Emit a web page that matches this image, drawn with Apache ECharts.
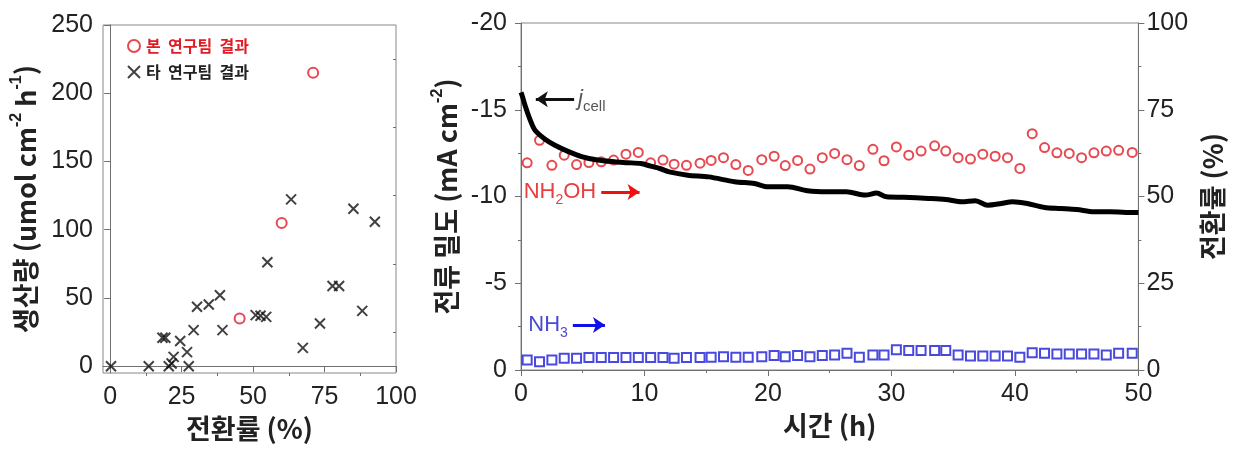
<!DOCTYPE html>
<html><head><meta charset="utf-8">
<script src="https://cdn.jsdelivr.net/npm/echarts@6/dist/echarts.min.js"></script>
<style>html,body{margin:0;padding:0;background:#fff}#c{width:1234px;height:454px}</style>
</head><body><div id="c"></div>
<script>
// ---- Left panel data ----
const ourConv = [71, 60, 45.3];
const ourRate = [215, 105, 35];
const otherConv = [0.3, 13.5, 18.3, 19.3, 20.5, 21.5, 22.2, 24.5, 26.9, 27.5, 29.2, 30.4, 34.5, 38.4, 39.3, 50.9, 52.6, 54.6, 55, 63.3, 67.4, 73.4, 77.8, 80.1, 85.1, 88.2, 92.6];
const otherRate = [0, 0, 20.8, 20.8, 0, 2, 6.8, 18.5, 10.3, 0, 26.4, 43.5, 45.2, 52, 26.4, 37.4, 37, 36.1, 76.2, 122.2, 13.4, 31.3, 58.7, 58.7, 115.3, 40.5, 105.8];
const xTicksLeft = [0, 25, 50, 75, 100];
const xMinorLeft = [12.5, 37.5, 62.5, 87.5];
const yTicksLeft = [0, 50, 100, 150, 200, 250];
const yMinorLeft = [25, 75, 125, 175, 225];

// ---- Right panel data ----
const sampleTime = [0.5,1.5,2.5,3.5,4.5,5.5,6.5,7.5,8.5,9.5,10.5,11.5,12.4,13.4,14.5,15.4,16.4,17.4,18.4,19.5,20.5,21.4,22.4,23.4,24.4,25.4,26.4,27.4,28.5,29.4,30.4,31.4,32.4,33.5,34.4,35.4,36.4,37.4,38.4,39.4,40.4,41.4,42.4,43.4,44.4,45.4,46.4,47.4,48.4,49.5];
const nh2ohFE = [59.7,66.2,59.0,61.9,59.2,59.8,60.0,60.5,62.2,62.7,59.7,60.5,59.3,59.0,59.6,60.4,61.2,59.2,57.5,60.6,61.6,58.9,60.4,57.9,61.2,62.4,60.6,58.9,63.6,60.3,64.3,61.9,63.1,64.6,63.1,61.2,60.8,62.2,61.6,61.2,58.1,68.1,64.1,62.6,62.4,61.2,62.6,63.1,63.3,62.7];
const nh3FE = [2.9,2.4,2.9,3.4,3.4,3.6,3.6,3.6,3.6,3.6,3.6,3.6,3.4,3.6,3.6,3.7,3.8,3.7,3.7,3.8,4.2,3.8,4.2,3.8,4.2,4.3,4.8,3.7,4.3,4.3,5.8,5.6,5.6,5.6,5.6,4.3,4.0,4.0,4.0,4.0,3.7,5.0,4.8,4.6,4.6,4.6,4.6,4.3,4.8,4.8];
const jTime = [0.0,0.1,0.35,0.75,1.15,1.95,2.75,3.8,4.9,6.2,7.55,8.6,9.7,10.5,11.3,12.0,13.5,15.2,17.3,18.9,20.0,21.6,23.2,24.8,26.35,27.9,28.8,29.6,31.0,33.0,34.4,35.7,36.8,37.8,38.9,39.8,41.0,42.4,43.7,45.0,46.4,47.7,49.0,50.0];
const jCell = [-16.0,-15.8,-15.2,-14.4,-13.8,-13.3,-12.95,-12.6,-12.3,-12.1,-12.0,-11.95,-11.9,-11.75,-11.6,-11.42,-11.23,-11.13,-10.85,-10.75,-10.56,-10.56,-10.33,-10.27,-10.27,-10.08,-10.2,-9.98,-9.95,-9.89,-9.83,-9.7,-9.76,-9.5,-9.6,-9.7,-9.6,-9.37,-9.31,-9.25,-9.12,-9.12,-9.08,-9.08];

const zip = (a, b) => a.map((v, i) => [v, b[i]]);
const FONT = "'Liberation Sans', Arial, 'Noto Sans CJK KR', sans-serif";
const KFONT = "'Noto Sans CJK KR', 'Liberation Sans', sans-serif";
const AX = '#707070';
const RED = '#e01b24';
const BLUE = '#1c1cd6';
const crossPath = 'path://M0,0L10,10M10,0L0,10';

// left-panel plot box (px) used to place the minor-tick overlay axes on the same edge
const L_LEFT = 103, L_RIGHT = 838, L_TOP = 25, L_BOTTOM = 81;
const L_W = 1234 - L_LEFT - L_RIGHT, L_H = 454 - L_TOP - L_BOTTOM;

const axisBase = {
  axisLine: { show: true, lineStyle: { color: AX, width: 1 } },
  splitLine: { show: false },
  axisLabel: { fontSize: 25, color: '#222', fontFamily: FONT },
};
const nameStyle = { fontSize: 27, fontWeight: 'bold', color: '#222', fontFamily: KFONT,
  rich: { sup: { fontSize: 16, fontWeight: 'bold', verticalAlign: 'top', lineHeight: 34, fontFamily: FONT } } };

const chart = echarts.init(document.getElementById('c'), null, { renderer: 'canvas' });
chart.setOption({
  animation: false,
  backgroundColor: '#fff',
  grid: [
    { left: L_LEFT, right: L_RIGHT, top: L_TOP, bottom: L_BOTTOM, show: true, borderColor: '#888', borderWidth: 1, containLabel: false },
    { left: 521, right: 89, top: 23, bottom: 84, show: true, borderColor: '#888', borderWidth: 1, containLabel: false }
  ],
  legend: {
    orient: 'vertical', left: 122, top: 33, itemWidth: 14, itemHeight: 12, itemGap: 10,
    textStyle: { fontSize: 16, fontWeight: 'bold', fontFamily: KFONT },
    data: [
      { name: '본  연구팀  결과', textStyle: { color: RED } },
      { name: '타  연구팀  결과', textStyle: { color: '#222' } }
    ]
  },
  xAxis: [
    Object.assign({}, axisBase, {
      gridIndex: 0, type: 'value', min: -2.5, max: 100, position: 'bottom',
      axisTick: { show: true, length: 6, customValues: xTicksLeft, lineStyle: { color: AX } },
      axisLabel: Object.assign({}, axisBase.axisLabel, { customValues: xTicksLeft, margin: 12 }),
      name: '전환률 (%)', nameLocation: 'middle', nameGap: 40, nameTextStyle: nameStyle
    }),
    { gridIndex: 0, type: 'value', min: -2.5, max: 100, position: 'top', offset: -L_H,
      axisLine: { show: true, lineStyle: { color: 'rgba(0,0,0,0)' } }, splitLine: { show: false }, axisLabel: { show: false },
      axisTick: { show: true, inside: true, length: 3, customValues: xMinorLeft, lineStyle: { color: AX } } },
    Object.assign({}, axisBase, {
      gridIndex: 1, type: 'value', min: 0, max: 50, interval: 10,
      axisTick: { show: true, length: 6, lineStyle: { color: AX } },
      minorTick: { show: true, splitNumber: 2, length: 3, lineStyle: { color: AX } },
      axisLabel: Object.assign({}, axisBase.axisLabel, { margin: 12 }),
      name: '시간 (h)', nameLocation: 'middle', nameGap: 40, nameTextStyle: nameStyle
    })
  ],
  yAxis: [
    Object.assign({}, axisBase, {
      gridIndex: 0, type: 'value', min: -5, max: 250, position: 'left',
      axisTick: { show: true, length: 6, customValues: yTicksLeft, lineStyle: { color: AX } },
      axisLabel: Object.assign({}, axisBase.axisLabel, { customValues: yTicksLeft, margin: 10 }),
      name: '생산량 (umol cm{sup|-2} h{sup|-1})', nameLocation: 'middle', nameGap: 60, nameRotate: 90,
      nameTextStyle: nameStyle
    }),
    { gridIndex: 0, type: 'value', min: -5, max: 250, position: 'right', offset: -L_W,
      axisLine: { show: true, lineStyle: { color: 'rgba(0,0,0,0)' } }, splitLine: { show: false }, axisLabel: { show: false },
      axisTick: { show: true, inside: true, length: 3, customValues: yMinorLeft, lineStyle: { color: AX } } },
    Object.assign({}, axisBase, {
      gridIndex: 1, type: 'value', min: -20, max: 0, interval: 5, inverse: true, position: 'left',
      axisTick: { show: true, length: 6, lineStyle: { color: AX } },
      minorTick: { show: true, splitNumber: 2, length: 3, lineStyle: { color: AX } },
      axisLabel: Object.assign({}, axisBase.axisLabel, { margin: 14 }),
      name: '전류 밀도 (mA cm{sup|-2})', nameLocation: 'middle', nameGap: 55, nameRotate: 90,
      nameTextStyle: nameStyle
    }),
    Object.assign({}, axisBase, {
      gridIndex: 1, type: 'value', min: 0, max: 100, interval: 25, position: 'right',
      axisTick: { show: true, length: 6, lineStyle: { color: AX } },
      minorTick: { show: true, splitNumber: 2, length: 3, lineStyle: { color: AX } },
      axisLabel: Object.assign({}, axisBase.axisLabel, { margin: 8 }),
      name: '전환률 (%)', nameLocation: 'middle', nameGap: 55, nameRotate: 90,
      nameTextStyle: nameStyle
    })
  ],
  series: [
    { name: '타  연구팀  결과', type: 'scatter', xAxisIndex: 0, yAxisIndex: 0,
      data: zip(otherConv, otherRate), symbol: crossPath, symbolSize: 10,
      itemStyle: { color: 'rgba(0,0,0,0)', borderColor: '#111', borderWidth: 2 } },
    { name: '본  연구팀  결과', type: 'scatter', xAxisIndex: 0, yAxisIndex: 0,
      data: zip(ourConv, ourRate), symbol: 'emptyCircle', symbolSize: 10,
      itemStyle: { color: RED, borderColor: RED, borderWidth: 3 } },
    { name: 'jcell', type: 'line', xAxisIndex: 2, yAxisIndex: 2,
      data: zip(jTime, jCell), showSymbol: false, symbol: 'none', smooth: 0.3,
      lineStyle: { color: '#000', width: 5 },
      markLine: { silent: true, symbol: ['none', 'arrow'], symbolSize: [12, 12],
        lineStyle: { color: '#111', width: 3, type: 'solid' },
        label: { show: true, position: 'start', distance: 4, formatter: '{i|j}{s|cell}', color: '#555',
          rich: { i: { fontSize: 22, fontStyle: 'italic', fontFamily: FONT, color: '#555' },
                  s: { fontSize: 15, fontFamily: FONT, verticalAlign: 'bottom', lineHeight: 30, color: '#555' } } },
        data: [[{ coord: [4.3, -15.6] }, { coord: [1.2, -15.6] }]] } },
    { name: 'NH2OH', type: 'scatter', xAxisIndex: 2, yAxisIndex: 3,
      data: zip(sampleTime, nh2ohFE), symbol: 'emptyCircle', symbolSize: 9,
      itemStyle: { color: RED, borderColor: RED, borderWidth: 2.3 },
      markLine: { silent: true, symbol: ['none', 'arrow'], symbolSize: [12, 12],
        lineStyle: { color: '#f01010', width: 3, type: 'solid' },
        label: { show: true, position: 'start', distance: 5, formatter: 'NH{s|2}OH', color: '#e84040',
          fontSize: 22, fontFamily: FONT,
          rich: { s: { fontSize: 14, fontFamily: FONT, verticalAlign: 'bottom', lineHeight: 30, color: '#e84040' } } },
        data: [[{ coord: [6.5, 51.3] }, { coord: [9.6, 51.3] }]] } },
    { name: 'NH3', type: 'scatter', xAxisIndex: 2, yAxisIndex: 3,
      data: zip(sampleTime, nh3FE), symbol: 'emptyRect', symbolSize: 9,
      itemStyle: { color: BLUE, borderColor: BLUE, borderWidth: 2.3 },
      markLine: { silent: true, symbol: ['none', 'arrow'], symbolSize: [12, 12],
        lineStyle: { color: '#1010e8', width: 3, type: 'solid' },
        label: { show: true, position: 'start', distance: 5, formatter: 'NH{s|3}', color: '#4a4ad0',
          fontSize: 22, fontFamily: FONT,
          rich: { s: { fontSize: 14, fontFamily: FONT, verticalAlign: 'bottom', lineHeight: 30, color: '#4a4ad0' } } },
        data: [[{ coord: [4.2, 13.0] }, { coord: [6.8, 13.0] }]] } }
  ]
});
</script></body></html>
